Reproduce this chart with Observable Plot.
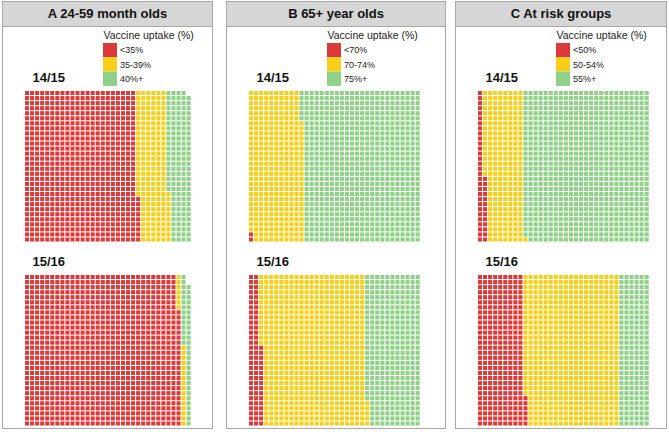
<!DOCTYPE html>
<html><head><meta charset="utf-8">
<script src="https://cdn.jsdelivr.net/npm/d3@7"></script>
<script src="https://cdn.jsdelivr.net/npm/@observablehq/plot@0.6"></script>
<style>
body{margin:0;background:#fff;font-family:Arial,"Liberation Sans",sans-serif;}
#root{position:relative;width:669px;height:432px;overflow:hidden;}
.panel{position:absolute;top:1px;height:428px;border:1px solid #a8a8a8;box-sizing:border-box;background:#fff;}
.hdr{height:24px;background:#d6d6d6;border-bottom:1px solid #a8a8a8;text-align:center;font-weight:bold;font-size:13px;line-height:24px;color:#111;}
.panel svg{position:absolute;left:0;top:24px;}
</style></head>
<body><div id="root"></div>
<script>
// ---- data ----
const panelIds = ["A", "B", "C"];
const panelTitles = ["24-59 month olds", "65+ year olds", "At risk groups"];
const years = ["14/15", "15/16"];
const legendTitle = "Vaccine uptake (%)";
const bandLabelsA = ["<35%", "35-39%", "40%+"];
const bandLabelsB = ["<70%", "70-74%", "75%+"];
const bandLabelsC = ["<50%", "50-54%", "55%+"];
// counts of squares per band [red, yellow, green]
const countsA1415 = [669, 181, 139];
const countsA1516 = [923, 23, 42];
const countsB1415 = [2, 322, 696];
const countsB1516 = [76, 619, 325];
const countsC1415 = [43, 228, 749];
const countsC1516 = [276, 564, 180];
const bandColors = ["#db3a3b", "#f6cf1b", "#90d088"];

const panels = [
  {id: panelIds[0], title: panelTitles[0], labels: bandLabelsA, counts: [countsA1415, countsA1516], left: 2, width: 211},
  {id: panelIds[1], title: panelTitles[1], labels: bandLabelsB, counts: [countsB1415, countsB1516], left: 226, width: 220},
  {id: panelIds[2], title: panelTitles[2], labels: bandLabelsC, counts: [countsC1415, countsC1516], left: 455, width: 212}
];

const ROWS = 30;
const PITCH = 5.05;
const GAP = 1 / PITCH;
const YEAR_OFFSET = 184 / PITCH; // rows between the two waffles

const root = document.getElementById("root");
panels.forEach((p) => {
  const div = document.createElement("div");
  div.className = "panel";
  div.style.left = p.left + "px";
  div.style.width = p.width + "px";
  const hdr = document.createElement("div");
  hdr.className = "hdr";
  hdr.textContent = p.id + " " + p.title;
  div.appendChild(hdr);

  const cells = [];
  p.counts.forEach((cnt, yi) => {
    let i = 0;
    cnt.forEach((n, b) => {
      for (let k = 0; k < n; k++, i++) {
        const col = Math.floor(i / ROWS);
        const rowTop = ROWS - 1 - (i % ROWS) + yi * YEAR_OFFSET;
        cells.push({col, rowTop, band: p.labels[b]});
      }
    });
  });

  const innerW = p.width - 2;
  const x0 = 22;
  const y0 = 65;
  const svgH = 402;
  const yDomainMax = YEAR_OFFSET + ROWS;
  const legendX = 100;
  const swTop = 17, swH = 14.3, swW = 14;

  const chart = Plot.plot({
    width: innerW,
    height: svgH,
    margin: 0,
    x: {type: "linear", domain: [0, 40], range: [x0, x0 + 40 * PITCH], axis: null},
    y: {type: "linear", domain: [0, yDomainMax], range: [y0, y0 + yDomainMax * PITCH], axis: null},
    color: {domain: p.labels, range: bandColors},
    style: {fontFamily: "Arial, 'Liberation Sans', sans-serif", background: "transparent"},
    marks: [
      Plot.rect(cells, {x1: "col", x2: d => d.col + 1 - GAP, y1: "rowTop", y2: d => d.rowTop + 1 - GAP, fill: "band"}),
      Plot.text(years, {x: 0, y: (d, i) => i * YEAR_OFFSET, dx: 7, dy: -13.5, text: d => d, textAnchor: "start", fontWeight: "bold", fontSize: 13, fill: "#111"}),
      // legend title
      Plot.text([legendTitle], {frameAnchor: "top-left", dx: legendX, dy: 5, text: d => d, fontSize: 10.5, textAnchor: "start", lineAnchor: "top", fill: "#222"}),
      // legend swatches (colors from the color scale)
      Plot.rect(p.labels, {fill: d => d, render: (index, scales) => {
        const g = d3.create("svg:g");
        p.labels.forEach((lab, j) => {
          g.append("rect").attr("x", legendX).attr("y", swTop + j * swH).attr("width", swW).attr("height", swH).attr("fill", scales.color(lab));
          g.append("text").attr("x", legendX + swW + 3).attr("y", swTop + j * swH + swH / 2).attr("dy", "0.35em")
            .attr("text-anchor", "start").attr("font-size", 9).attr("fill", "#222").text(lab);
        });
        return g.node();
      }})
    ]
  });
  div.appendChild(chart);
  root.appendChild(div);
});
</script></body></html>
